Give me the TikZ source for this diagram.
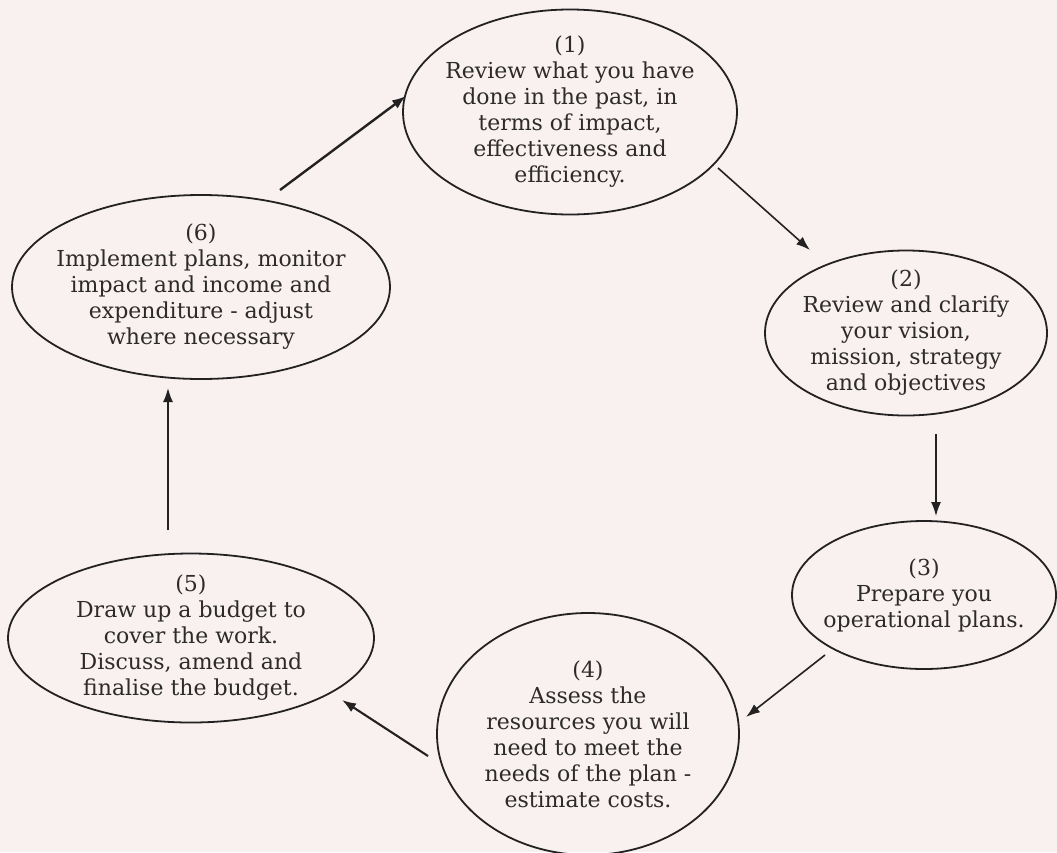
\documentclass[tikz,border=0pt]{standalone}
\usepackage{fontspec}
\setmainfont{DejaVu Serif}
\usetikzlibrary{shapes.geometric,arrows.meta}
\definecolor{paper}{RGB}{248,241,240}
\definecolor{ink}{RGB}{35,33,33}
\definecolor{txtc}{RGB}{45,42,42}
\tikzset{
  bubble/.style={draw=ink, line width=1.8pt, ellipse, inner sep=0pt},
  txt/.style={align=center, text=txtc, font=\fontsize{22}{26}\selectfont, inner sep=0pt},
  arr/.style={draw=ink, line width=1.6pt, -{Latex[length=14pt,width=10pt]}},
}
\begin{document}
\begin{tikzpicture}[x=1pt,y=-1pt]
\fill[paper] (0,0) rectangle (1057,852);
\useasboundingbox (0,0) rectangle (1057,852);

\node[bubble, minimum width=334pt, minimum height=205pt] (e1) at (570,112) {};
\node[bubble, minimum width=378pt, minimum height=184pt] (e6) at (201,287) {};
\node[bubble, minimum width=282pt, minimum height=165pt] (e2) at (906,333) {};
\node[bubble, minimum width=264pt, minimum height=148pt] (e3) at (924,595) {};
\node[bubble, minimum width=302pt, minimum height=242pt] (e4) at (588,734) {};
\node[bubble, minimum width=366pt, minimum height=169pt] (e5) at (191,638) {};

\node[txt] (t1) at (e1.center) {(1)\\Review what you have\\done in the past, in\\terms of impact,\\effectiveness and\\efficiency.};
\node[txt] (t6) at (e6.center) {(6)\\Implement plans, monitor\\impact and income and\\expenditure - adjust\\where necessary};
\node[txt] (t2) at (e2.center) {(2)\\Review and clarify\\your vision,\\mission, strategy\\and objectives};
\node[txt] (t3) at (e3.center) {(3)\\Prepare you\\operational plans.};
\node[txt] (t4) at (e4.center) {(4)\\Assess the\\resources you will\\need to meet the\\needs of the plan -\\estimate costs.};
\node[txt] (t5) at (e5.center) {(5)\\Draw up a budget to\\cover the work.\\Discuss, amend and\\finalise the budget.};

% connector end points (arrows stop short of the ellipses)
\coordinate (a61) at (280,190);  \coordinate (b61) at (406,96);
\coordinate (a12) at (718,168);  \coordinate (b12) at (810,250);
\coordinate (a23) at (936,434);  \coordinate (b23) at (936,516);
\coordinate (a34) at (825,655);  \coordinate (b34) at (746,717);
\coordinate (a45) at (428,756);  \coordinate (b45) at (342,700);
\coordinate (a56) at (168,530);  \coordinate (b56) at (168,388);

\draw[arr, line width=2.4pt] (a61) -- (b61);
\draw[arr] (a12) -- (b12);
\draw[arr, line width=1.4pt] (a23) -- (b23);
\draw[arr] (a34) -- (b34);
\draw[arr, line width=2.1pt] (a45) -- (b45);
\draw[arr] (a56) -- (b56);
\end{tikzpicture}
\end{document}
